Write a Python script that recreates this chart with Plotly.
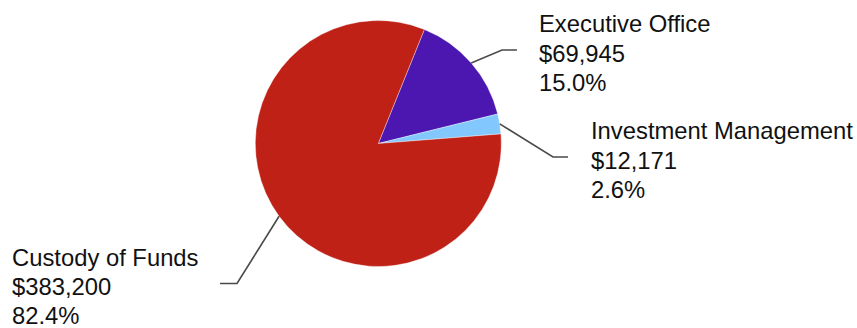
import math
import plotly.graph_objects as go

# ---- data ----
categories = ["Executive Office", "Investment Management", "Custody of Funds"]
amounts = [69945, 12171, 383200]
percent_labels = ["15.0%", "2.6%", "82.4%"]
colors = ["#4b17b0", "#82c8ff", "#bf2117"]

# ---- layout constants ----
W, H = 857, 328
CX, CY, R = 378.3, 143.5, 123.0
ROTATION = 22.0
FONT = "Liberation Sans, Arial, sans-serif"
FSIZE = 23.8
LINE_GAP = 29.3
TEXT_SHIFT = 3.0
label_layout = [
    dict(cy=50.0, end_x=517.0, knee_x=502.0, text_x=538.0),
    dict(cy=157.0, end_x=568.0, knee_x=553.0, text_x=590.0),
    dict(cy=283.5, end_x=220.0, knee_x=237.0, text_x=11.0),
]

def px(x):
    return x / W

def py(y):
    return 1 - y / H

fig = go.Figure(go.Pie(
    labels=categories,
    values=amounts,
    sort=False,
    direction="clockwise",
    rotation=ROTATION,
    marker=dict(colors=colors, line=dict(color="rgba(255,255,255,0.6)", width=0.6)),
    textinfo="none",
    hoverinfo="label+value+percent",
    showlegend=False,
    domain=dict(x=[px(CX - R), px(CX + R)], y=[py(CY + R), py(CY - R)]),
))

total = sum(amounts)
start = ROTATION
shapes = []
annotations = []
for i, (cat, amt, pct) in enumerate(zip(categories, amounts, percent_labels)):
    frac = amt / total
    mid = math.radians(start + frac * 360 / 2)
    start += frac * 360
    ex = CX + R * math.sin(mid)
    ey = CY - R * math.cos(mid)
    lay = label_layout[i]
    path = "M {} {} L {} {} L {} {}".format(
        px(ex), py(ey), px(lay["knee_x"]), py(lay["cy"]), px(lay["end_x"]), py(lay["cy"]))
    shapes.append(dict(type="path", xref="paper", yref="paper", path=path,
                       line=dict(color="#4a4a4a", width=1.6)))
    lines = [cat, "${:,}".format(amt), pct]
    for k, t in enumerate(lines):
        yc = lay["cy"] + (k - 1) * LINE_GAP + TEXT_SHIFT
        annotations.append(dict(
            x=px(lay["text_x"]), y=py(yc), xref="paper", yref="paper",
            xanchor="left", yanchor="middle", text=t, showarrow=False,
            font=dict(family=FONT, size=FSIZE, color="#111111"),
            borderpad=0,
        ))

fig.update_layout(
    width=W, height=H,
    margin=dict(l=0, r=0, t=0, b=0),
    paper_bgcolor="white",
    plot_bgcolor="white",
    shapes=shapes,
    annotations=annotations,
)

fig.write_html("out.html")
